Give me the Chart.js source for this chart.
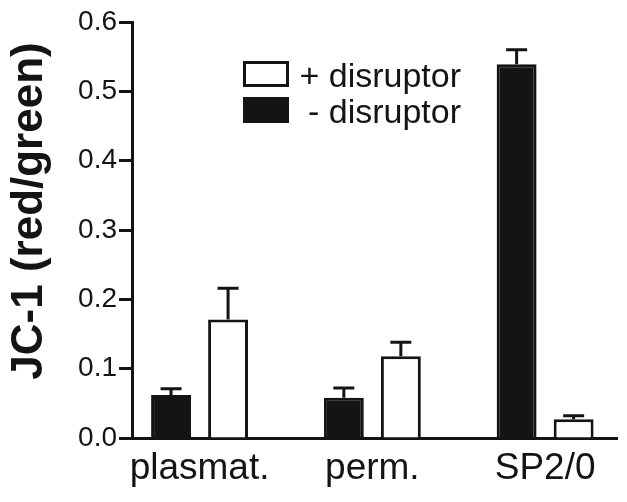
<!DOCTYPE html>
<html lang="en">
<head>
  <meta charset="UTF-8">
  <title>JC-1 (red/green)</title>
  <script src="https://cdn.jsdelivr.net/npm/chart.js"></script>
  <style>
    html, body { margin: 0; padding: 0; background: #fff; }
    #wrap { width: 627px; height: 502px; }
  </style>
</head>
<body>
  <div id="wrap"><canvas id="jcChart"></canvas></div>

  <script>
    // datos
    const categories = ['plasmat.', 'perm.', 'SP2/0'];
    const minusValues = [0.062, 0.058, 0.539];   // - disruptor (negro)
    const minusErrors = [0.009, 0.014, 0.021];
    const plusValues = [0.171, 0.118, 0.027];    // + disruptor (blanco)
    const plusErrors = [0.045, 0.020, 0.005];
    const yTicks = [0.0, 0.1, 0.2, 0.3, 0.4, 0.5, 0.6];

    const FONT = '"Liberation Sans", Arial, sans-serif';
    const INK = '#141414';

    const points = (vals) => vals.map((v, i) => ({ x: i + 1, y: v }));

    // barras de error (solo hacia arriba)
    const errorBars = {
      id: 'errorBars',
      afterDatasetsDraw(chart) {
        const ctx = chart.ctx;
        const yScale = chart.scales.y;
        chart.data.datasets.forEach((ds, di) => {
          const meta = chart.getDatasetMeta(di);
          meta.data.forEach((bar, i) => {
            const top = yScale.getPixelForValue(ds.data[i].y + ds.errors[i]);
            ctx.save();
            ctx.strokeStyle = INK;
            ctx.lineWidth = 3;
            ctx.beginPath();
            ctx.moveTo(bar.x, bar.y);
            ctx.lineTo(bar.x, top);
            ctx.moveTo(bar.x - 10.5, top);
            ctx.lineTo(bar.x + 10.5, top);
            ctx.stroke();
            ctx.restore();
          });
        });
      }
    };

    // leyenda apilada dentro del area
    const boxLegend = {
      id: 'boxLegend',
      afterDraw(chart) {
        const ctx = chart.ctx;
        const area = chart.chartArea;
        const order = [1, 0];
        ctx.save();
        ctx.font = '34px ' + FONT;
        ctx.fillStyle = INK;
        ctx.textAlign = 'right';
        ctx.textBaseline = 'alphabetic';
        order.forEach((di, row) => {
          const ds = chart.data.datasets[di];
          const bx = area.left + 111;
          const by = area.top + 39 + row * 36;
          ctx.fillStyle = ds.backgroundColor;
          ctx.fillRect(bx, by, 46, 26);
          ctx.strokeStyle = INK;
          ctx.lineWidth = 3;
          ctx.strokeRect(bx + 1.5, by + 1.5, 43, 23);
          ctx.fillStyle = INK;
          ctx.fillText(ds.label, area.left + 329, by + 26);
        });
        ctx.restore();
      }
    };

    // titulo del eje y
    const yTitle = {
      id: 'yTitle',
      afterDraw(chart) {
        const ctx = chart.ctx;
        const area = chart.chartArea;
        ctx.save();
        ctx.translate(42, (area.top + area.bottom) / 2 - 19);
        ctx.rotate(-Math.PI / 2);
        ctx.font = 'bold 44px ' + FONT;
        ctx.fillStyle = INK;
        ctx.textAlign = 'center';
        ctx.textBaseline = 'alphabetic';
        ctx.fillText('JC-1 (red/green)', 0, 0);
        ctx.restore();
      }
    };

    new Chart(document.getElementById('jcChart'), {
      type: 'bar',
      data: {
        datasets: [
          {
            label: '- disruptor',
            data: points(minusValues),
            errors: minusErrors,
            backgroundColor: INK,
            borderColor: INK,
            borderWidth: 3
          },
          {
            label: '+ disruptor',
            data: points(plusValues),
            errors: plusErrors,
            backgroundColor: '#ffffff',
            borderColor: INK,
            borderWidth: 3
          }
        ]
      },
      options: {
        responsive: true,
        maintainAspectRatio: false,
        animation: false,
        categoryPercentage: 0.66,
        barPercentage: 0.70,
        layout: { padding: { top: 22, right: 10, left: 0, bottom: 0 } },
        plugins: {
          legend: { display: false },
          tooltip: { enabled: false }
        },
        scales: {
          x: {
            type: 'linear',
            offset: false,
            min: 0.609,
            max: 3.416,
            afterBuildTicks(scale) {
              scale.ticks = categories.map((c, i) => ({ value: i + 1 }));
            },
            afterFit(scale) { scale.height = 64; },
            grid: { display: false, drawTicks: false },
            border: { display: true, color: INK, width: 3 },
            ticks: {
              padding: 9,
              color: INK,
              font: { family: FONT, size: 37 },
              autoSkip: false,
              maxRotation: 0,
              callback: (v) => categories[Math.round(v) - 1]
            }
          },
          y: {
            min: 0,
            max: 0.6,
            afterBuildTicks(scale) {
              scale.ticks = yTicks.map(v => ({ value: v }));
            },
            afterFit(scale) { scale.width = 132; },
            grid: {
              drawOnChartArea: false,
              drawTicks: true,
              tickLength: 13,
              tickWidth: 3,
              tickColor: INK
            },
            border: { display: true, color: INK, width: 3 },
            ticks: {
              padding: 2,
              color: INK,
              font: { family: FONT, size: 28 },
              callback: (v) => v.toFixed(1)
            }
          }
        }
      },
      plugins: [errorBars, boxLegend, yTitle]
    });
  </script>
</body>
</html>
